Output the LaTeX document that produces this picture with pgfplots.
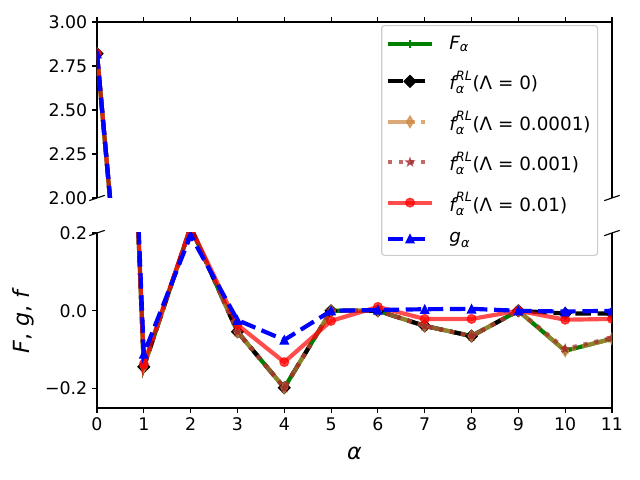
\documentclass[border=0pt]{standalone}
\usepackage{fontspec}
\setmainfont{DejaVu Sans}
\usepackage{amsmath}
\usepackage{pgfplots}
\usepackage{pgfplotstable}
\pgfplotsset{compat=1.18}
\definecolor{mgreen}{RGB}{0,128,0}
\definecolor{mperu}{RGB}{205,133,63}
\definecolor{mbrown}{RGB}{165,42,42}
\definecolor{mblue}{RGB}{0,0,255}
\definecolor{mred}{RGB}{255,0,0}

\pgfdeclareplotmark{mstar}{%
  \pgfpathmoveto{\pgfpointpolar{90}{\pgfplotmarksize}}%
  \pgfpathlineto{\pgfpointpolar{126}{0.382\pgfplotmarksize}}%
  \pgfpathlineto{\pgfpointpolar{162}{\pgfplotmarksize}}%
  \pgfpathlineto{\pgfpointpolar{198}{0.382\pgfplotmarksize}}%
  \pgfpathlineto{\pgfpointpolar{234}{\pgfplotmarksize}}%
  \pgfpathlineto{\pgfpointpolar{270}{0.382\pgfplotmarksize}}%
  \pgfpathlineto{\pgfpointpolar{306}{\pgfplotmarksize}}%
  \pgfpathlineto{\pgfpointpolar{342}{0.382\pgfplotmarksize}}%
  \pgfpathlineto{\pgfpointpolar{18}{\pgfplotmarksize}}%
  \pgfpathlineto{\pgfpointpolar{54}{0.382\pgfplotmarksize}}%
  \pgfpathclose
  \pgfusepathqfillstroke
}
\pgfdeclareplotmark{mdiam}{%
  \pgfpathmoveto{\pgfpoint{0pt}{1.414\pgfplotmarksize}}%
  \pgfpathlineto{\pgfpoint{1.414\pgfplotmarksize}{0pt}}%
  \pgfpathlineto{\pgfpoint{0pt}{-1.414\pgfplotmarksize}}%
  \pgfpathlineto{\pgfpoint{-1.414\pgfplotmarksize}{0pt}}%
  \pgfpathclose
  \pgfusepathqfillstroke
}
\pgfdeclareplotmark{mthin}{%
  \pgfpathmoveto{\pgfpoint{0pt}{1.414\pgfplotmarksize}}%
  \pgfpathlineto{\pgfpoint{0.85\pgfplotmarksize}{0pt}}%
  \pgfpathlineto{\pgfpoint{0pt}{-1.414\pgfplotmarksize}}%
  \pgfpathlineto{\pgfpoint{-0.85\pgfplotmarksize}{0pt}}%
  \pgfpathclose
  \pgfusepathqfillstroke
}
\pgfdeclareplotmark{mtri}{%
  \pgfpathmoveto{\pgfpoint{0pt}{\pgfplotmarksize}}%
  \pgfpathlineto{\pgfpoint{\pgfplotmarksize}{-\pgfplotmarksize}}%
  \pgfpathlineto{\pgfpoint{-\pgfplotmarksize}{-\pgfplotmarksize}}%
  \pgfpathclose
  \pgfusepathqfillstroke
}

\pgfplotstableread{
x F f0 fa fb fc g
0 2.82 2.82 2.82 2.82 2.82 2.82
1 -0.144 -0.144 -0.144 -0.144 -0.137 -0.111
2 0.215 0.215 0.215 0.215 0.215 0.194
3 -0.054 -0.054 -0.054 -0.054 -0.036 -0.024
4 -0.198 -0.198 -0.198 -0.198 -0.132 -0.075
5 0 0 0 0 -0.026 0
6 0 0 0 0 0.010 0.002
7 -0.039 -0.039 -0.039 -0.039 -0.021 0.004
8 -0.065 -0.065 -0.065 -0.065 -0.021 0.005
9 0 0 0 0 0 0
10 -0.103 -0.007 -0.103 -0.098 -0.023 -0.002
11 -0.072 -0.007 -0.072 -0.070 -0.021 0
}\datatable

\newcommand{\fRL}{$\text{\itshape f}^{\text{\itshape RL}}_{\text{\itshape α}}$}

\pgfplotsset{
  mystyle/.style={
    scale only axis, width=370.8pt, xmin=0, xmax=11,
    tick align=outside, major tick length=3.5pt,
    every tick/.style={black, line width=0.8pt},
    axis line style={line width=0.8pt},
    ticklabel style={font=\fontsize{12.5}{15}\selectfont},
    clip marker paths=true,
    xtick={0,1,2,3,4,5,6,7,8,9,10,11},
  },
  pF/.style={mgreen, line width=3pt, mark=+, mark size=3pt, mark options={solid, line width=1.2pt}},
  pA/.style={black, line width=3pt, dash pattern=on 11.1pt off 4.8pt, mark=mdiam, mark size=3pt, mark options={solid, line width=0.8pt}},
  pB/.style={mperu, opacity=0.7, line width=3pt, dash pattern=on 19.2pt off 4.8pt on 3pt off 4.8pt, mark=mthin, mark size=3pt, mark options={solid, line width=0.8pt}},
  pC/.style={mbrown, opacity=0.7, line width=3pt, dash pattern=on 3pt off 4.95pt, mark=mstar, mark size=3pt, mark options={solid, line width=0.8pt}},
  pD/.style={mred, opacity=0.7, line width=3pt, mark=*, mark size=3.2pt, mark options={solid, line width=0.8pt}},
  pG/.style={mblue, line width=3pt, dash pattern=on 11.1pt off 4.8pt, mark=mtri, mark size=3pt, mark options={solid, line width=0.8pt}},
}

\begin{document}
\begin{tikzpicture}
\useasboundingbox (0,0) rectangle (460.8pt,345.6pt);

% lower axis
\begin{axis}[mystyle,
  at={(69.84pt,51.84pt)}, anchor=south west, height=126pt,
  ymin=-0.25, ymax=0.2,
  axis x line*=bottom, axis y line*=box, ytick pos=left,
  xticklabels={0,1,2,3,4,5,6,7,8,9,10,11},
  ytick={-0.2,0,0.2}, yticklabels={−0.2,0.0,0.2},
  xlabel={\textit{α}}, ylabel={\textit{F}, \textit{g}, \textit{f}},
  label style={font=\fontsize{16}{19}\selectfont},
  xlabel style={at={(axis description cs:0.5,-0.257)}, anchor=center},
  ylabel style={at={(axis description cs:-0.1437,0.5)}, anchor=center},
]
\addplot[pF] table[x=x,y=F]{\datatable};
\addplot[pA] table[x=x,y=f0]{\datatable};
\addplot[pB] table[x=x,y=fa]{\datatable};
\addplot[pC] table[x=x,y=fb]{\datatable};
\addplot[pD] table[x=x,y=fc]{\datatable};
\addplot[pG] table[x=x,y=g]{\datatable};
\end{axis}

% upper axis
\begin{axis}[mystyle,
  at={(69.84pt,203.04pt)}, anchor=south west, height=126.72pt,
  ymin=2, ymax=3,
  axis x line*=top, axis y line*=box, ytick pos=left,
  xticklabels={},
  ytick={2,2.25,2.5,2.75,3}, yticklabels={2.00,2.25,2.50,2.75,3.00},
  legend cell align=left,
  legend style={at={(axis description cs:1,1)}, anchor=north east,
    xshift=-10pt, yshift=-2.2pt, draw=black!20, line width=0.8pt,
    rounded corners=2pt, fill=white,
    font=\fontsize{13.2}{15.8}\selectfont, inner xsep=3pt, inner ysep=5.5pt,
    row sep=10pt,
    /tikz/every odd column/.append style={column sep=9pt}},
  legend image code/.code={\draw[mark repeat=2,mark phase=2] plot coordinates {(0pt,0pt) (15.85pt,0pt) (31.7pt,0pt)};},
]
\addplot[pF] table[x=x,y=F]{\datatable};
\addlegendentry{$\text{\itshape F}_{\text{\itshape α}}$}
\addplot[pA] table[x=x,y=f0]{\datatable};
\addlegendentry{\fRL(Λ = 0)}
\addplot[pB] table[x=x,y=fa]{\datatable};
\addlegendentry{\fRL(Λ = 0.0001)}
\addplot[pC] table[x=x,y=fb]{\datatable};
\addlegendentry{\fRL(Λ = 0.001)}
\addplot[pD] table[x=x,y=fc]{\datatable};
\addlegendentry{\fRL(Λ = 0.01)}
\addplot[pG] table[x=x,y=g]{\datatable};
\addlegendentry{$\text{\itshape g}_{\text{\itshape α}}$}
\end{axis}

% break marks
\draw[line width=0.8pt] (64.28pt,201.14pt) -- (75.40pt,204.94pt);
\draw[line width=0.8pt] (435.04pt,201.14pt) -- (446.16pt,204.94pt);
\draw[line width=0.8pt] (64.28pt,175.95pt) -- (75.40pt,179.73pt);
\draw[line width=0.8pt] (435.04pt,175.95pt) -- (446.16pt,179.73pt);
\end{tikzpicture}
\end{document}
